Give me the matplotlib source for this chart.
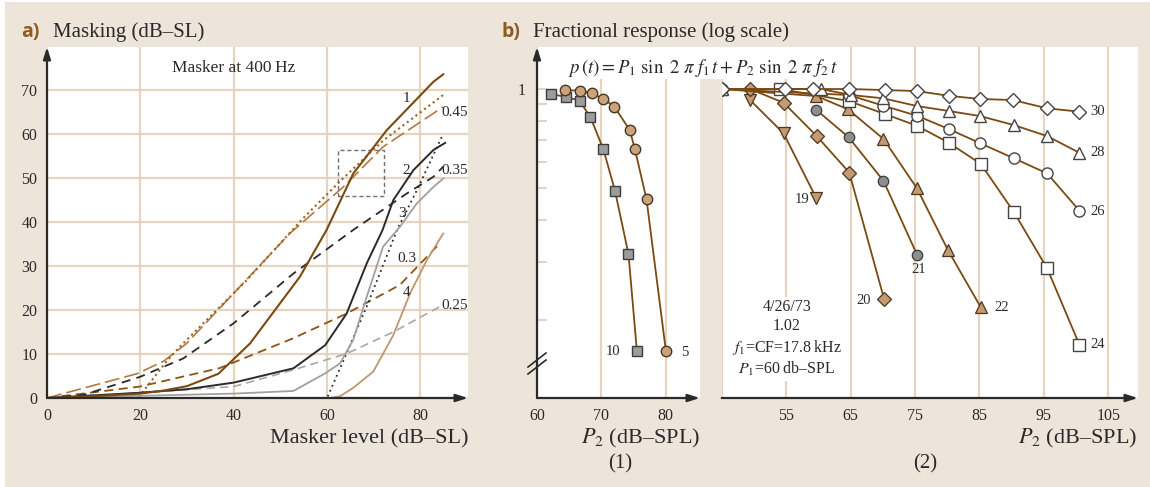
import matplotlib
matplotlib.use('Agg')
import matplotlib.pyplot as plt
from matplotlib.patches import Rectangle
from matplotlib.lines import Line2D

plt.rcParams['font.family'] = ['Liberation Serif', 'DejaVu Serif']
plt.rcParams['mathtext.fontset'] = 'stix'

# ---------------- data: panel a ----------------
a_xticks = [0, 20, 40, 60, 80]
a_yticks = [0, 10, 20, 30, 40, 50, 60, 70]

c1_x = [0, 10, 20, 25, 30, 36.7, 43.5, 54.2, 59.9, 65.6, 72.8, 82.8, 84.9]
c1_y = [0, 0.4, 1.0, 1.7, 2.7, 5.5, 12.4, 27.6, 38.2, 51.0, 60.9, 71.9, 73.6]
c2_x = [0, 20, 30, 40, 52.8, 59.6, 64.2, 68.5, 71.9, 74.2, 78.5, 82.8, 85.3]
c2_y = [0, 1.2, 2.0, 3.5, 6.75, 12.0, 19.2, 30.6, 38.2, 45.0, 51.8, 56.4, 58.0]
c3_x = [0, 20, 40, 52.8, 59.6, 62.8, 65.6, 68.5, 72.0, 75.6, 79.2, 82.8, 84.9]
c3_y = [0, 0.5, 1.0, 1.6, 5.6, 7.9, 13.2, 23.0, 34.4, 38.9, 44.2, 48.0, 49.9]
c4_x = [0, 60.6, 62.8, 65.6, 69.9, 74.2, 77.8, 81.4, 84.9]
c4_y = [0, 0, 0.4, 2.3, 6.0, 14.3, 23.8, 31.4, 37.4]
d45_x = [0, 19.2, 24.9, 29.9, 40, 52, 63.5, 72, 84.9]
d45_y = [0, 5.5, 8.3, 12.4, 23.8, 37.4, 48.0, 57.1, 66.2]
dotb_x = [0, 19.5, 25.6, 28.5, 35.6, 42.8, 55, 63, 72, 84.9]
dotb_y = [0, 0, 8.3, 11.7, 19.2, 26.8, 41.0, 49.5, 58.5, 68.9]
d35_x = [0, 7.8, 19.9, 29.2, 40, 52.8, 65.6, 77.1, 82.8, 84.9]
d35_y = [0, 0.7, 4.8, 9.0, 17.0, 28.3, 38.2, 46.5, 50.3, 52.6]
dotk_x = [0, 60, 64.2, 68.5, 75, 79.6, 84.6]
dotk_y = [0, 0, 10.2, 20.8, 38.2, 48.0, 59.4]
d30_x = [0, 19.9, 37, 45.6, 52.8, 64.2, 75.6, 84.2]
d30_y = [0, 2.6, 6.8, 10.5, 13.6, 19.2, 25.7, 35.2]
d25_x = [0, 20, 40, 52.8, 64.2, 74.2, 84.2]
d25_y = [0, 1.2, 2.6, 6.4, 10.1, 15.0, 20.8]

a_labels = ['1', '0.45', '2', '0.35', '3', '0.3', '4', '0.25']
a_label_x = [77, 87.4, 77, 87.4, 76, 77, 77, 87.4]
a_label_y = [68, 64.8, 51.7, 51.7, 42, 31.7, 24, 21.1]

# ---------------- data: panel b(1) ----------------
b1_xticks = [60, 70, 80]
sq_x = [62.2, 64.5, 66.6, 68.3, 70.3, 72.1, 74.2, 75.5]
sq_y = [0.966, 0.946, 0.922, 0.821, 0.657, 0.492, 0.316, 0.161]
ci_x = [64.4, 66.6, 68.5, 70.3, 72.0, 74.4, 75.2, 77.0, 80.0]
ci_y = [0.993, 0.988, 0.970, 0.935, 0.884, 0.751, 0.657, 0.463, 0.161]

# ---------------- data: panel b(2) ----------------
b2_xticks = [45, 55, 65, 75, 85, 95, 105]
s30_x = [45, 54.8, 59.1, 64.8, 70.3, 75.3, 80.2, 85.1, 90.2, 95.5, 100.5]
s30_y = [1.0, 1.0, 1.0, 1.0, 0.993, 0.986, 0.954, 0.933, 0.926, 0.874, 0.854]
s28_x = [45, 60.4, 65.1, 70.1, 75.3, 80.2, 85.1, 90.3, 95.5, 100.5]
s28_y = [1.0, 1.0, 0.959, 0.937, 0.888, 0.858, 0.828, 0.778, 0.720, 0.641]
s26_x = [45, 64.7, 70.1, 75.3, 80.2, 85.1, 90.3, 95.5, 100.5]
s26_y = [1.0, 0.959, 0.890, 0.830, 0.757, 0.685, 0.617, 0.555, 0.428]
s24_x = [54.1, 64.7, 70.3, 75.3, 80.2, 85.2, 90.3, 95.5, 100.5]
s24_y = [1.0, 0.920, 0.840, 0.774, 0.688, 0.593, 0.425, 0.286, 0.168]
s22_x = [45, 59.7, 64.6, 70.1, 75.3, 80.1, 85.2]
s22_y = [1.0, 0.952, 0.868, 0.706, 0.500, 0.325, 0.218]
s21_x = [59.7, 64.7, 70.1, 75.3]
s21_y = [0.864, 0.714, 0.527, 0.315]
s20_x = [45, 49.4, 54.6, 59.75, 64.8, 70.2]
s20_y = [1.0, 1.0, 0.909, 0.720, 0.558, 0.231]
s19_x = [49.4, 54.6, 59.7]
s19_y = [0.926, 0.734, 0.466]

b2_labels = ['30', '28', '26', '24', '19', '20', '21', '22']
b2_label_x = [103.4, 103.4, 103.4, 103.4, 57.4, 67.1, 75.5, 88.5]
b2_label_y = [0.852, 0.640, 0.424, 0.168, 0.461, 0.229, 0.283, 0.218]

# ---------------- figure ----------------
W, H = 1150, 487
fig = plt.figure(figsize=(W / 100, H / 100), dpi=100)
fig.patch.set_facecolor('white')
BG = '#EEE5DA'
GRID = '#E6D4BE'
INK = '#2a2a2a'
BROWN = '#7B4A12'
fig.add_artist(Rectangle((5 / W, 0), 1 - 5 / W, 1 - 2 / H, transform=fig.transFigure,
                         facecolor=BG, edgecolor='none', zorder=-10))


def fx(x):
    return x / W


def fy(y):
    return 1 - y / H


def axrect(l, t, r, b):
    return [l / W, 1 - b / H, (r - l) / W, (b - t) / H]


def arrows(ax, xarrow=True, yarrow=True):
    kw = dict(xycoords='axes fraction', annotation_clip=False,
              arrowprops=dict(arrowstyle='-|>,head_length=0.7,head_width=0.22', lw=1.6,
                              color=INK, shrinkA=0, shrinkB=0))
    if xarrow:
        ax.annotate('', xy=(1.0, 0), xytext=(0, 0), **kw)
    if yarrow:
        ax.annotate('', xy=(0, 1.0), xytext=(0, 0), **kw)
    for s in ax.spines.values():
        s.set_visible(False)


TICKFS = 11.5
DASH = '\u2013'

# ---------- panel a ----------
axa = fig.add_axes(axrect(47, 47, 468, 398))
axa.set_facecolor('white')
axa.set_xlim(0, 90.2)
axa.set_ylim(0, 79.8)
axa.set_xticks(a_xticks)
axa.set_yticks(a_yticks)
axa.grid(True, color=GRID, lw=1.6)
axa.set_axisbelow(True)
axa.tick_params(length=0, labelsize=TICKFS, colors=INK, pad=7)
arrows(axa)

axa.plot(d25_x, d25_y, color='#A8A8A8', lw=1.2, dashes=(5, 3))
axa.plot(d30_x, d30_y, color='#8B5514', lw=1.3, dashes=(5, 3))
axa.plot(d35_x, d35_y, color=INK, lw=1.3, dashes=(5, 3.5))
axa.plot(dotk_x, dotk_y, color=INK, lw=1.3, dashes=(1, 2))
axa.plot(d45_x, d45_y, color='#B07A44', lw=1.2, dashes=(9, 3))
axa.plot(dotb_x, dotb_y, color='#9A6228', lw=1.5, dashes=(1, 1.6))
axa.plot(c4_x, c4_y, color='#C0966C', lw=1.3)
axa.plot(c3_x, c3_y, color='#A0A0A0', lw=1.3)
axa.plot(c2_x, c2_y, color=INK, lw=1.4)
axa.plot(c1_x, c1_y, color=BROWN, lw=1.5)
axa.add_patch(Rectangle((62.3, 45.9), 10.0, 10.5, fill=False, edgecolor='#707070',
                        lw=1.0, ls=(0, (3, 2))))
for t, x, y in zip(a_labels, a_label_x, a_label_y):
    axa.text(x, y, t, ha='center', va='center', fontsize=11, color=INK)
axa.text(39.9, 75, 'Masker at 400\u2009Hz', ha='center', va='center', fontsize=12.5, color=INK)

fig.text(fx(21), fy(37), 'a)', fontsize=14, fontweight='bold', family='Open Sans',
         color='#8E5A1E', va='baseline', ha='left')
fig.text(fx(53), fy(37), 'Masking (dB' + DASH + 'SL)', fontsize=15, color=INK,
         va='baseline', ha='left')
fig.text(fx(468), fy(443), 'Masker level (dB' + DASH + 'SL)', fontsize=16, color=INK,
         va='baseline', ha='right')

# ---------- panel b(1) ----------
LOGTOP, LOGBOT = 1.341, 0.1157
axb1 = fig.add_axes(axrect(537, 47, 700, 398))
axb1.set_facecolor('white')
axb1.set_yscale('log')
axb1.set_xlim(60, 85.3)
axb1.set_ylim(LOGBOT, LOGTOP)
axb1.set_xticks(b1_xticks)
axb1.set_yticks([0.2, 0.3, 0.4, 0.5, 0.6, 0.7, 0.8, 0.9, 1.0])
axb1.set_yticklabels(['', '', '', '', '', '', '', '', '1'])
axb1.yaxis.set_minor_locator(matplotlib.ticker.NullLocator())
axb1.grid(True, axis='x', color=GRID, lw=1.6)
axb1.set_axisbelow(True)
axb1.tick_params(axis='x', length=0, labelsize=TICKFS, colors=INK, pad=7)
axb1.tick_params(axis='y', direction='in', length=7, width=1.3, color='#E2CFB8',
                 labelsize=TICKFS, labelcolor=INK, pad=8)
arrows(axb1)

axb1.plot(sq_x, sq_y, color=BROWN, lw=1.3, marker='s', ms=7.5, mfc='#9C9C9C',
          mec='#3c3c3c', mew=1.0, zorder=3)
axb1.plot(ci_x, ci_y, color=BROWN, lw=1.3, marker='o', ms=7.5, mfc='#C9A37C',
          mec='#4a3520', mew=1.0, zorder=3)
axb1.text(72.9, 0.16, '10', ha='right', va='center', fontsize=10.5, color=INK)
axb1.text(82.3, 0.159, '5', ha='left', va='center', fontsize=10.5, color=INK)

# break mark on y axis
for dy in (0, 7):
    fig.add_artist(Line2D([fx(528), fx(546)], [fy(370 + dy - 3), fy(356 + dy - 3)],
                          color=INK, lw=1.2, transform=fig.transFigure, zorder=6))

fig.text(fx(700), fy(443), '$P_2$ (dB' + DASH + 'SPL)', fontsize=16, color=INK,
         va='baseline', ha='right')
fig.text(fx(620), fy(464), '(1)', fontsize=15, color=INK, va='center', ha='center')

# ---------- panel b(2) ----------
axb2 = fig.add_axes(axrect(721.7, 47, 1138, 398))
axb2.set_facecolor('white')
axb2.set_yscale('log')
axb2.set_xlim(45, 109.6)
axb2.set_ylim(LOGBOT, LOGTOP)
axb2.set_xticks(b2_xticks)
axb2.set_xticklabels([''] + [str(v) for v in b2_xticks[1:]])
axb2.set_yticks([])
axb2.yaxis.set_minor_locator(matplotlib.ticker.NullLocator())
axb2.grid(True, axis='x', color=GRID, lw=1.6)
axb2.set_axisbelow(True)
axb2.tick_params(axis='x', length=0, labelsize=TICKFS, colors=INK, pad=7)
arrows(axb2, xarrow=True, yarrow=False)

OPEN = dict(mfc='white', mec='#444444', mew=1.0)
LW = 1.3
axb2.plot(s19_x, s19_y, color=BROWN, lw=LW, marker='v', ms=8, mfc='#C49A70', mec='#4a3520', mew=0.9, zorder=3)
axb2.plot(s20_x, s20_y, color=BROWN, lw=LW, marker='D', ms=7, mfc='#C49A70', mec='#4a3520', mew=0.9, zorder=3)
axb2.plot(s21_x, s21_y, color=BROWN, lw=LW, marker='o', ms=7.5, mfc='#8E8E8E', mec='#3a3a3a', mew=0.9, zorder=3)
axb2.plot(s22_x, s22_y, color=BROWN, lw=LW, marker='^', ms=8, mfc='#C49A70', mec='#4a3520', mew=0.9, zorder=3)
axb2.plot(s24_x, s24_y, color=BROWN, lw=LW, marker='s', ms=8, zorder=3, **OPEN)
axb2.plot(s26_x, s26_y, color=BROWN, lw=LW, marker='o', ms=8, zorder=3, **OPEN)
axb2.plot(s28_x, s28_y, color=BROWN, lw=LW, marker='^', ms=8.5, zorder=3, **OPEN)
axb2.plot(s30_x, s30_y, color=BROWN, lw=LW, marker='D', ms=7.5, zorder=3, **OPEN)
for t, x, y in zip(b2_labels, b2_label_x, b2_label_y):
    axb2.text(x, y, t, ha='center', va='center', fontsize=10.5, color=INK)

axb2.text(55.1, 0.175, '4/26/73\n1.02\n$f_1$=CF=17.8\u2009kHz\n$P_1$=60\u2009db' + DASH + 'SPL',
          ha='center', va='center', fontsize=11.5, color=INK, linespacing=1.25,
          bbox=dict(facecolor='white', edgecolor='none', pad=2), zorder=5)

fig.text(fx(1137), fy(443), '$P_2$ (dB' + DASH + 'SPL)', fontsize=16, color=INK,
         va='baseline', ha='right')
fig.text(fx(925), fy(464), '(2)', fontsize=15, color=INK, va='center', ha='center')

# ---------- panel b titles & equation ----------
fig.text(fx(501), fy(37), 'b)', fontsize=14, fontweight='bold', family='Open Sans',
         color='#8E5A1E', va='baseline', ha='left')
fig.text(fx(533), fy(37), 'Fractional response (log scale)', fontsize=15, color=INK,
         va='baseline', ha='left')
fig.add_artist(Rectangle((fx(566), fy(79)), (840 - 566) / W, 32 / H, transform=fig.transFigure,
                         facecolor='white', edgecolor='none', zorder=5))
fig.text(fx(703), fy(68),
         r'$p\,(t) = P_1\ \sin\ 2\ \pi\ f_1\, t + P_2\ \sin\ 2\ \pi\ f_2\, t$',
         fontsize=13.5, color=INK, va='center', ha='center', zorder=6)

fig.savefig('out.png', dpi=100, facecolor=fig.get_facecolor())
